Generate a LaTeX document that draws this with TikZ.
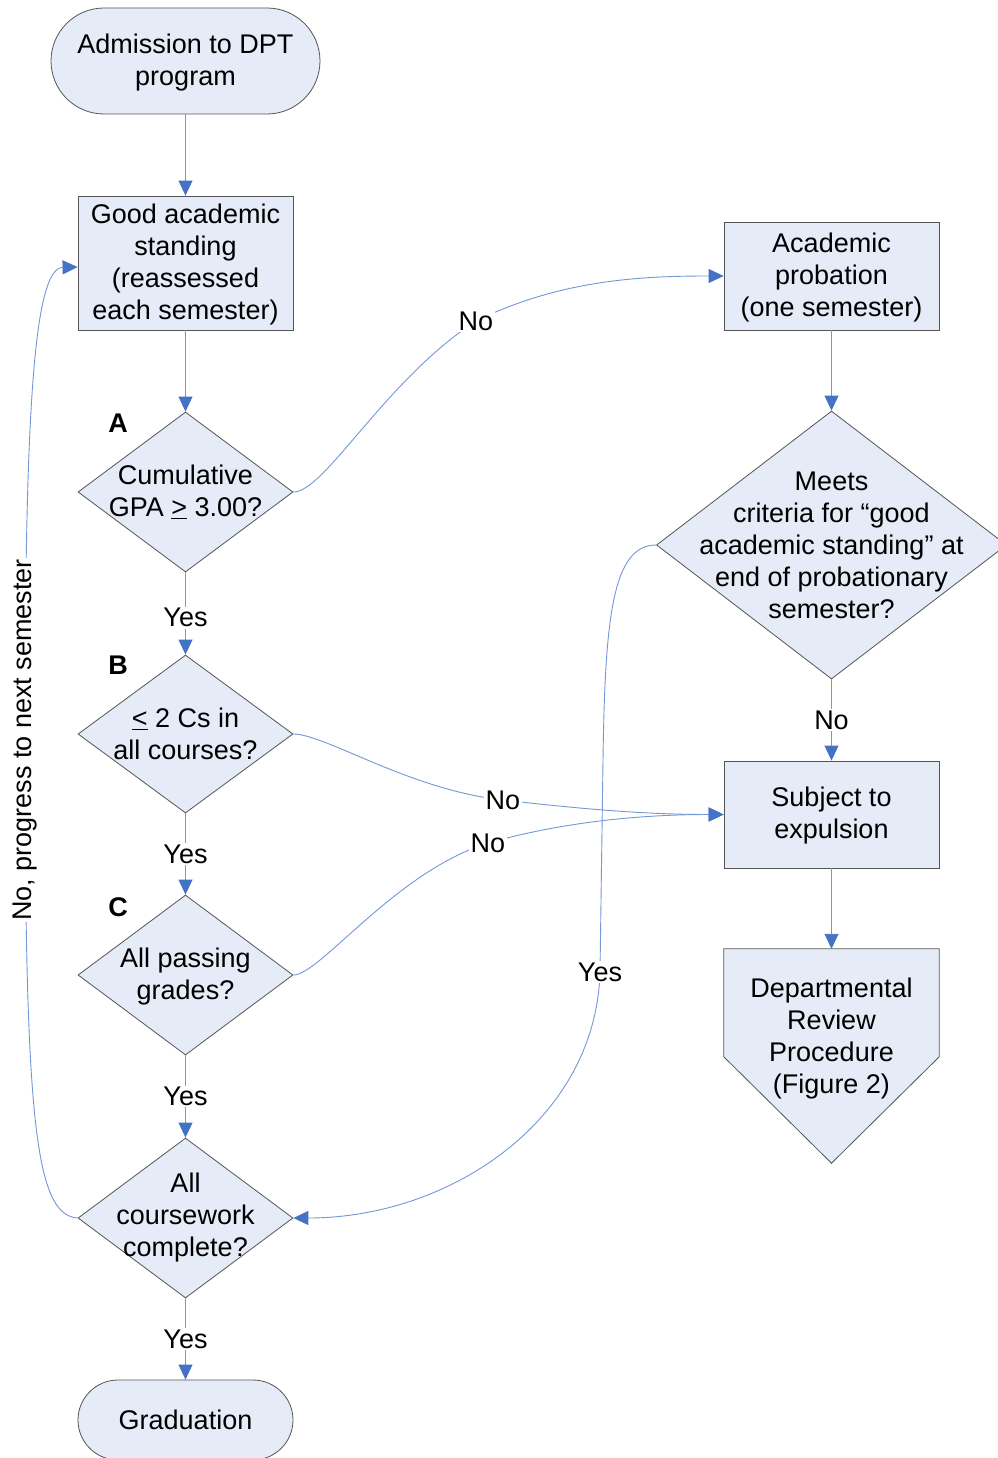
\documentclass[tikz,border=0pt]{standalone}
\usepackage{fontspec}
\setmainfont{Liberation Sans}
\usetikzlibrary{shapes.geometric,arrows.meta}
\definecolor{boxfill}{RGB}{229,236,247}
\definecolor{boxline}{RGB}{85,85,85}
\definecolor{connc}{RGB}{115,152,214}
\definecolor{tipc}{RGB}{68,114,196}
\newcommand{\ulsym}[1]{\underline{#1}}
\begin{document}
\begin{tikzpicture}[x=1pt,y=-1pt,
  every node/.style={font=\fontsize{27}{32}\selectfont},
  shapeline/.style={draw=boxline, fill=boxfill, line width=0.8pt},
  term/.style={shapeline, inner sep=0pt, align=center},
  proc/.style={shapeline, minimum width=215pt, inner sep=0pt, align=center},
  dia/.style={diamond, shapeline, minimum width=215pt, minimum height=160pt, inner sep=0pt},
  txt/.style={align=center, inner sep=0pt},
  lbl/.style={fill=white, inner sep=1.5pt},
  tagl/.style={font=\bfseries\fontsize{27}{32}\selectfont, inner sep=0pt},
  flow/.style={draw=connc, line width=0.9pt, -{Triangle[length=15pt,width=14pt,color=tipc,fill=tipc]}}]
\useasboundingbox (0,0) rectangle (997,1458);
\fill[white] (0,0) rectangle (997,1458);

% left column
\node[term, rounded corners=53pt, minimum width=269pt, minimum height=106pt] (start) at (185.5,61) {};
\node[txt] at (185.5,63) {Admission to DPT\\program};
\node[proc, minimum height=134pt] (gas) at (185.5,263) {};
\node[txt] at (185.5,264.5) {Good academic\\standing\\(reassessed\\each semester)};
\node[dia] (A) at (185.5,492) {};
\node[txt] at (A) {Cumulative\\GPA \ulsym{>} 3.00?};
\node[tagl] at (118,423) {A};
\node[dia, minimum height=158pt] (B) at (185.5,734) {};
\node[txt] at (B) {\ulsym{<} 2 Cs in\\all courses?};
\node[tagl] at (118,665) {B};
\node[dia] (C) at (185.5,975) {};
\node[txt] at (185.5,977) {All passing\\grades?};
\node[tagl] at (118,907) {C};
\node[dia] (D) at (185.5,1218) {};
\node[txt] at (D) {All\\coursework\\complete?};
\node[term, rounded corners=40pt, minimum width=215pt, minimum height=80pt] (grad) at (185.5,1420) {Graduation};

% right column
\node[proc, minimum height=108pt] (ap) at (831.5,276) {};
\node[txt] at (831.5,277.5) {Academic\\probation\\(one semester)};
\node[dia, minimum width=350pt, minimum height=268pt] (M) at (831.5,545) {};
\node[txt] at (M) {Meets\\criteria for “good\\academic standing” at\\end of probationary\\semester?};
\node[proc, minimum height=107pt] (se) at (831.5,814.5) {};
\node[txt] at (831.5,815.5) {Subject to\\expulsion};
\node[minimum width=215pt, minimum height=214pt, inner sep=0pt] (drp) at (831.5,1056) {};
\draw[shapeline] (drp.north west) -- (drp.north east) -- ([yshift=-108pt]drp.north east) -- (drp.south) -- ([yshift=-108pt]drp.north west) -- cycle;
\node[txt] at (831.5,1038.5) {Departmental\\Review\\Procedure\\(Figure 2)};

% straight connectors
\draw[flow] (start) -- (gas);
\draw[flow] (gas) -- (A);
\draw[flow] (A) -- node[lbl, pos=0.55]{Yes} (B);
\draw[flow] (B) -- node[lbl]{Yes} (C);
\draw[flow] (C) -- node[lbl]{Yes} (D);
\draw[flow] (D) -- node[lbl]{Yes} (grad);
\draw[flow] (ap) -- (M);
\draw[flow] (M) -- node[lbl]{No} (se);
\draw[flow] (se) -- (drp);

% curved connectors
\draw[flow] (A.east) .. controls (325,492) and (385,380) .. (476,321) node[lbl]{No}
  .. controls (560,280) and (640,276) .. (ap.west);
\draw[flow] (B.east) .. controls (325,734) and (410,790) .. (503,800) node[lbl]{No}
  .. controls (590,810) and (650,814.5) .. (se.west);
\draw[flow] (C.east) .. controls (320,975) and (395,872) .. (488,843) node[lbl]{No}
  .. controls (570,820) and (650,814.5) .. (se.west);
\draw[flow] (M.west) .. controls (612,545) and (605,620) .. (603,760) -- (600,972) node[lbl]{Yes}
  .. controls (596,1120) and (450,1218) .. (D.east);
\draw[flow] (D.west) .. controls (35,1215) and (25,1120) .. (25,740) node[lbl, rotate=90]{No, progress to next semester}
  .. controls (25,420) and (33,268) .. ([yshift=-4pt]gas.west);
\end{tikzpicture}
\end{document}
